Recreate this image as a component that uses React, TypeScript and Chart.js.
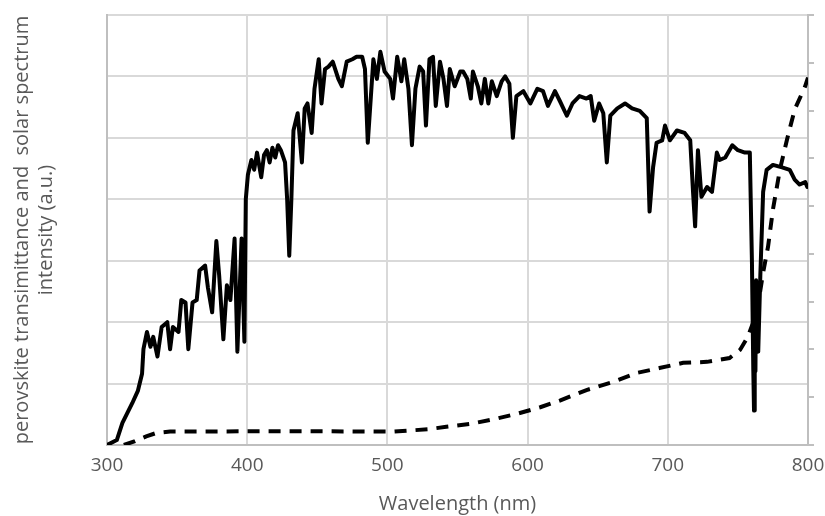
import React, { useEffect, useRef } from "react";
import { Chart, registerables } from "chart.js";
Chart.register(...registerables);

// Solar spectrum (AM1.5-like), wavelength in nm
const solarWl = [
  300, 307, 311, 318, 322, 325, 326, 328.5, 331, 333, 336, 339, 343, 345, 347, 351, 353, 356, 358, 361,
  364, 366, 370, 372, 375, 378, 380, 383, 385.5, 388, 391, 393, 396, 398, 399, 400.5, 403, 405, 407, 410,
  412, 414, 416, 418, 420, 422, 424, 427, 428.5, 430, 431.5, 433, 436, 439, 441, 443, 446, 448, 451, 453,
  455.5, 458, 461, 465, 467.5, 471, 475, 478, 482, 484, 486, 490, 492.5, 495, 498, 502, 504, 507, 510, 512,
  515, 517.5, 520, 523, 525.5, 527.5, 530, 532.5, 534.5, 537.5, 540, 542.5, 544.5, 548, 552, 554, 557, 559.5, 561, 564.5,
  567, 569.5, 572, 574.5, 578, 581.5, 584, 587, 589.5, 592, 597, 602, 607, 611, 614.5, 619.5, 623, 628, 632, 637,
  642, 645, 647.5, 651, 654, 656.5, 659, 664, 669.5, 674.5, 680, 685, 687, 689.5, 692, 696, 698, 701.5, 706.5, 712,
  716, 718, 719.5, 721.5, 724, 728, 731.5, 735, 737, 741, 746, 750, 755, 758.5, 760, 761, 761.5, 762, 762.5, 763,
  764, 764.5, 766, 768, 770.5, 775, 781.5, 787, 790.5, 794, 798, 799.5, 800,
];
const solarVal = [
  0, 0.02, 0.09, 0.17, 0.22, 0.29, 0.39, 0.46, 0.4, 0.44, 0.36, 0.48, 0.5, 0.39, 0.48, 0.46, 0.59, 0.58, 0.39, 0.58,
  0.59, 0.71, 0.73, 0.64, 0.54, 0.83, 0.69, 0.43, 0.65, 0.59, 0.84, 0.38, 0.84, 0.42, 1.0, 1.1, 1.16, 1.12, 1.19, 1.09,
  1.18, 1.2, 1.15, 1.21, 1.17, 1.22, 1.2, 1.15, 1.0, 0.77, 1.0, 1.28, 1.35, 1.15, 1.37, 1.39, 1.27, 1.45, 1.57, 1.39,
  1.53, 1.54, 1.56, 1.49, 1.46, 1.56, 1.57, 1.58, 1.58, 1.53, 1.23, 1.57, 1.49, 1.6, 1.52, 1.49, 1.41, 1.58, 1.48, 1.57,
  1.45, 1.22, 1.45, 1.54, 1.52, 1.3, 1.57, 1.58, 1.38, 1.56, 1.49, 1.38, 1.53, 1.46, 1.52, 1.52, 1.49, 1.41, 1.52, 1.46,
  1.39, 1.49, 1.39, 1.48, 1.42, 1.48, 1.5, 1.47, 1.25, 1.42, 1.44, 1.39, 1.45, 1.44, 1.38, 1.44, 1.4, 1.34, 1.39, 1.42,
  1.41, 1.42, 1.32, 1.39, 1.35, 1.15, 1.34, 1.37, 1.39, 1.37, 1.36, 1.33, 0.95, 1.13, 1.23, 1.24, 1.3, 1.24, 1.28, 1.27,
  1.24, 1.03, 0.89, 1.2, 1.01, 1.05, 1.03, 1.19, 1.16, 1.17, 1.22, 1.2, 1.19, 1.19, 0.75, 0.3, 0.14, 0.6, 0.3, 0.67,
  0.4, 0.38, 0.69, 1.03, 1.12, 1.14, 1.13, 1.12, 1.08, 1.06, 1.07, 1.05, 1.06,
];

// Perovskite transmittance (%)
const transWl = [312, 320, 328, 335, 345, 352, 422, 505, 529, 542, 559, 576, 592, 609, 623, 642, 661, 678, 694, 711, 728, 744, 751.5, 757, 763.5, 768, 771.5, 775, 780, 785, 790.5, 798, 800];
const transVal = [0, 0.8, 1.8, 2.5, 2.8, 2.8, 2.9, 2.8, 3.3, 3.8, 4.4, 5.4, 6.5, 7.9, 9.3, 11.5, 13.2, 15.1, 16.1, 17.2, 17.4, 18.2, 19.9, 22.6, 27.7, 36.1, 41.5, 49.3, 57.7, 63.9, 70.2, 75.1, 76.9];

const xTitle = "Wavelength (nm)";
const yTitle = ["perovskite transimittance and  solar spectrum", "intensity (a.u.)"];

const FONT = "'Open Sans', 'Noto Sans', sans-serif";
const TEXT = "#595959";
const GRID = "#d9d9d9";
const AXIS = "#bfbfbf";

export default function App() {
  const ref = useRef<HTMLCanvasElement>(null);
  useEffect(() => {
    const chart = new Chart(ref.current as HTMLCanvasElement, {
      type: "scatter",
      data: {
        datasets: [
          {
            label: "solar spectrum",
            data: solarWl.map((x, i) => ({ x, y: solarVal[i] })),
            yAxisID: "y",
            showLine: true,
            borderColor: "#000000",
            backgroundColor: "#000000",
            borderWidth: 4,
            pointRadius: 0,
            tension: 0,
            borderJoinStyle: "round",
          },
          {
            label: "perovskite transmittance",
            data: transWl.map((x, i) => ({ x, y: transVal[i] })),
            yAxisID: "y2",
            showLine: true,
            borderColor: "#000000",
            backgroundColor: "#000000",
            borderWidth: 4,
            borderDash: [12, 9],
            pointRadius: 0,
            tension: 0,
          },
        ],
      },
      options: {
        animation: false,
        responsive: true,
        maintainAspectRatio: false,
        layout: { padding: { top: 15, left: 0, right: 0, bottom: 0 } },
        plugins: { legend: { display: false }, tooltip: { enabled: false } },
        scales: {
          x: {
            type: "linear",
            position: "bottom",
            min: 300,
            max: 800,
            ticks: { stepSize: 100, color: TEXT, font: { family: FONT, size: 19 }, padding: 9 },
            grid: { color: GRID, lineWidth: 2, drawTicks: false },
            border: { color: AXIS, width: 2 },
            title: { display: true, text: xTitle, color: TEXT, font: { family: FONT, size: 20 }, padding: { top: 0, bottom: 0 } },
            afterFit: (s: any) => { s.height = 71; s.paddingLeft = 0; s.paddingRight = 0; },
          },
          y: {
            type: "linear",
            position: "left",
            min: 0,
            max: 1.75,
            ticks: { stepSize: 0.25, display: false },
            grid: { color: GRID, lineWidth: 2, drawTicks: false },
            border: { color: AXIS, width: 2 },
            title: { display: true, text: yTitle, color: TEXT, font: { family: FONT, size: 20 }, padding: { top: 10, bottom: 0 } },
            afterFit: (s: any) => { s.width = 107; s.paddingTop = 0; s.paddingBottom = 0; },
          },
          y2: {
            type: "linear",
            position: "right",
            min: 0,
            max: 90,
            ticks: { stepSize: 10, display: false },
            grid: { drawOnChartArea: false, color: AXIS, lineWidth: 2, tickLength: 6, drawTicks: true },
            border: { color: AXIS, width: 2 },
            afterFit: (s: any) => { s.width = 17; s.paddingTop = 0; s.paddingBottom = 0; },
          },
        },
      },
    });
    return () => chart.destroy();
  }, []);
  return (
    <div style={{ position: "fixed", left: 0, top: 0, width: 825, height: 516, background: "#fff" }}>
      <canvas ref={ref} />
    </div>
  );
}
